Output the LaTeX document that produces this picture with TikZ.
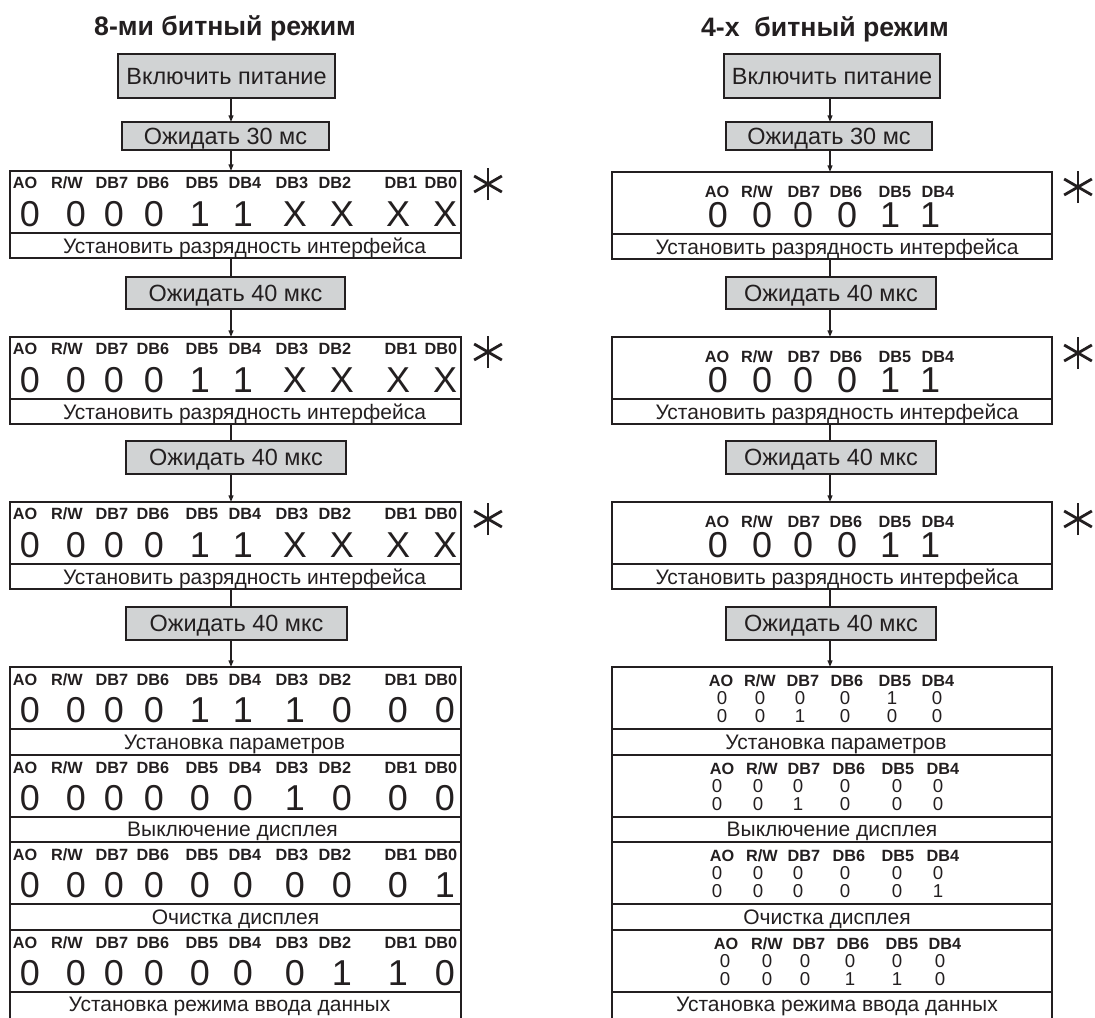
\documentclass[tikz,border=0pt]{standalone}
\usepackage{fontspec}
\setmainfont{Liberation Sans}
\usetikzlibrary{arrows.meta}
\definecolor{ink}{HTML}{231F20}
\definecolor{boxgray}{HTML}{D1D3D4}

\newcommand\datablock[7]{% name, x, y, width, label, label height, label dx
  \node[bitbox={#4}{62}] (#1b) at (#2,#3) {};
  \node[labbox={#4}{#6}] (#1l) at (#2,#3+62) {};
  \node[lab] (#1t) at (#2+#4/2+#7,#3+74.5) {#5};
}
\newcommand\lefthead[2]{%
  \foreach \h [count=\k] in {AO,R/W,DB7,DB6,DB5,DB4,DB3,DB2,DB1,DB0}{%
    \pgfmathsetmacro\xx{{25,67,112,153,202,245,292,335,401,441}[\k-1]}%
    \node[hdr] (#1h\k) at (\xx,#2) {\h};}}
\newcommand\leftrow[3]{%
  \foreach \v [count=\k] in {#3}{%
    \pgfmathsetmacro\xx{{30,76,114,154,200,243,295,342,398,445}[\k-1]}%
    \node[big] (#1d\k) at (\xx,#2) {\v};}}
\newcommand\righthead[3]{% prefix, y, x-list
  \foreach \h [count=\k] in {AO,R/W,DB7,DB6,DB5,DB4}{%
    \pgfmathsetmacro\xx{{#3}[\k-1]}%
    \node[hdr] (#1h\k) at (\xx,#2) {\h};}}
\newcommand\rightrow[5]{% prefix, y, style, x-list, values
  \foreach \v [count=\k] in {#5}{%
    \pgfmathsetmacro\xx{{#4}[\k-1]}%
    \node[#3] (#1\k) at (\xx,#2) {\v};}}
\newcommand\astr[3]{%
  \coordinate (#1) at (#2,#3);
  \draw[star] (#1) ++(90:16) -- ++(270:32);
  \draw[star] (#1) ++(30:16) -- ++(210:32);
  \draw[star] (#1) ++(150:16) -- ++(330:32);}

\begin{document}
\begin{tikzpicture}[x=0.75pt,y=-0.75pt,
  every node/.style={text=ink,inner sep=0pt,outer sep=0pt},
  gbox/.style 2 args={draw=ink,line width=1.5pt,fill=boxgray,anchor=north west,
    minimum width={#1*0.75pt},minimum height={#2*0.75pt},
    font=\fontsize{17.6}{19}\selectfont,text height=12.6pt,text depth=0pt},
  bitbox/.style 2 args={draw=ink,line width=1.5pt,anchor=north west,
    minimum width={#1*0.75pt},minimum height={#2*0.75pt}},
  labbox/.style 2 args={draw=ink,line width=1.5pt,anchor=north west,
    minimum width={#1*0.75pt},minimum height={#2*0.75pt}},
  lab/.style={font=\fontsize{15.75}{17}\selectfont,text height=11.3pt,text depth=0pt},
  hdr/.style={font=\bfseries\fontsize{12.2}{13}\selectfont,text height=8.8pt,text depth=0pt},
  big/.style={font=\fontsize{27}{29}\selectfont,text height=19.3pt,text depth=0pt},
  sml/.style={font=\fontsize{14}{15}\selectfont,text height=10pt,text depth=0pt},
  ttl/.style={font=\bfseries\fontsize{20}{22}\selectfont,text height=14.3pt,text depth=0pt},
  arr/.style={draw=ink,line width=1.1pt,-{Triangle[length=5pt,width=3.6pt]}},
  lnk/.style={draw=ink,line width=1.1pt},
  star/.style={draw=ink,line width=2.1pt}
]
\useasboundingbox (0,0) rectangle (1095,1017);
\clip (0,0) rectangle (1095,1017);

% titles
\node[ttl] (t8) at (225,26) {8-ми битный режим};
\node[ttl] (t4) at (825,27) {4-х\ \ битный режим};

% ===== left column =====
\coordinate (LX) at (231,0);
\node[gbox={217}{44}] (LP) at (118,54) {Включить питание};
\node[gbox={207}{28}] (LW1) at (122,122) {Ожидать 30 мс};
\node[gbox={219}{32}] (LW2) at (126,277) {Ожидать 40 мкс};
\node[gbox={220}{33}] (LW3) at (126,441) {Ожидать 40 мкс};
\node[gbox={221}{33}] (LW4) at (126,607) {Ожидать 40 мкс};

\datablock{L1}{10}{171}{451}{Установить разрядность интерфейса}{25}{9}
\datablock{L2}{10}{337}{451}{Установить разрядность интерфейса}{25}{9}
\datablock{L3}{10}{502}{451}{Установить разрядность интерфейса}{25}{9}
\datablock{L4}{10}{667}{451}{Установка параметров}{25.5}{-1}
\datablock{L5}{10}{754.5}{451}{Выключение дисплея}{25.5}{-3}
\datablock{L6}{10}{842}{451}{Очистка дисплея}{25.5}{0}
\datablock{L7}{10}{929.5}{451}{Установка режима ввода данных}{70}{-6}

\lefthead{L1}{183}   \leftrow{L1}{214}{0,0,0,0,1,1,X,X,X,X}
\lefthead{L2}{349}   \leftrow{L2}{380}{0,0,0,0,1,1,X,X,X,X}
\lefthead{L3}{514}   \leftrow{L3}{545}{0,0,0,0,1,1,X,X,X,X}
\lefthead{L4}{680}   \leftrow{L4}{710}{0,0,0,0,1,1,1,0,0,0}
\lefthead{L5}{767.5} \leftrow{L5}{797.5}{0,0,0,0,0,0,1,0,0,0}
\lefthead{L6}{855}   \leftrow{L6}{885}{0,0,0,0,0,0,0,0,0,1}
\lefthead{L7}{942.5} \leftrow{L7}{972.5}{0,0,0,0,0,0,0,1,1,0}

\astr{LS1}{488}{184}
\astr{LS2}{488}{352}
\astr{LS3}{488}{519}

\draw[arr] (LP.south -| LX) -- (LW1.north -| LX);
\draw[arr] (LW1.south -| LX) -- (L1b.north -| LX);
\draw[lnk] (L1l.south -| LX) -- (LW2.north -| LX);
\draw[arr] (LW2.south -| LX) -- (L2b.north -| LX);
\draw[lnk] (L2l.south -| LX) -- (LW3.north -| LX);
\draw[arr] (LW3.south -| LX) -- (L3b.north -| LX);
\draw[lnk] (L3l.south -| LX) -- (LW4.north -| LX);
\draw[arr] (LW4.south -| LX) -- (L4b.north -| LX);

% ===== right column =====
\coordinate (RX) at (830,0);
\node[gbox={216}{44}] (RP) at (724,54) {Включить питание};
\node[gbox={206}{28}] (RW1) at (726,122) {Ожидать 30 мс};
\node[gbox={210}{32}] (RW2) at (726,277) {Ожидать 40 мкс};
\node[gbox={210}{33}] (RW3) at (726,441) {Ожидать 40 мкс};
\node[gbox={210}{33}] (RW4) at (726,607) {Ожидать 40 мкс};

\datablock{R1}{612}{172}{440}{Установить разрядность интерфейса}{25}{5}
\datablock{R2}{612}{337}{440}{Установить разрядность интерфейса}{25}{5}
\datablock{R3}{612}{502}{440}{Установить разрядность интерфейса}{25}{5}
\datablock{R4}{612}{667}{440}{Установка параметров}{25.5}{4}
\datablock{R5}{612}{754.5}{440}{Выключение дисплея}{25.5}{0}
\datablock{R6}{612}{842}{440}{Очистка дисплея}{25.5}{-5}
\datablock{R7}{612}{929.5}{440}{Установка режима ввода данных}{70}{5}

\righthead{R1}{192}{717,757,804,846,895,938}
\rightrow{R1d}{215}{big}{718,762,803,847,890,930}{0,0,0,0,1,1}
\righthead{R2}{357}{717,757,804,846,895,938}
\rightrow{R2d}{380}{big}{718,762,803,847,890,930}{0,0,0,0,1,1}
\righthead{R3}{522}{717,757,804,846,895,938}
\rightrow{R3d}{545}{big}{718,762,803,847,890,930}{0,0,0,0,1,1}

\righthead{R4}{681}{721,760,803,847,895,938}
\rightrow{R4a}{698}{sml}{722,760,800,845,892,937}{0,0,0,0,1,0}
\rightrow{R4b}{716}{sml}{722,760,800,845,892,937}{0,0,1,0,0,0}
\righthead{R5}{768.5}{722,762,804,849,898,943}
\rightrow{R5a}{785.5}{sml}{717,758,798,845,897,938}{0,0,0,0,0,0}
\rightrow{R5b}{803.5}{sml}{717,758,798,845,897,938}{0,0,1,0,0,0}
\righthead{R6}{856}{722,762,804,849,898,943}
\rightrow{R6a}{873}{sml}{717,758,798,845,897,938}{0,0,0,0,0,0}
\rightrow{R6b}{891}{sml}{717,758,798,845,897,938}{0,0,0,0,0,1}
\righthead{R7}{943.5}{726,767,809,853,902,945}
\rightrow{R7a}{960.5}{sml}{725,767,805,850,897,940}{0,0,0,0,0,0}
\rightrow{R7b}{978.5}{sml}{725,767,805,850,897,940}{0,0,0,1,1,0}

\astr{RS1}{1078}{187}
\astr{RS2}{1078}{353}
\astr{RS3}{1078}{519}

\draw[arr] (RP.south -| RX) -- (RW1.north -| RX);
\draw[arr] (RW1.south -| RX) -- (R1b.north -| RX);
\draw[lnk] (R1l.south -| RX) -- (RW2.north -| RX);
\draw[arr] (RW2.south -| RX) -- (R2b.north -| RX);
\draw[lnk] (R2l.south -| RX) -- (RW3.north -| RX);
\draw[arr] (RW3.south -| RX) -- (R3b.north -| RX);
\draw[lnk] (R3l.south -| RX) -- (RW4.north -| RX);
\draw[arr] (RW4.south -| RX) -- (R4b.north -| RX);
\end{tikzpicture}
\end{document}
